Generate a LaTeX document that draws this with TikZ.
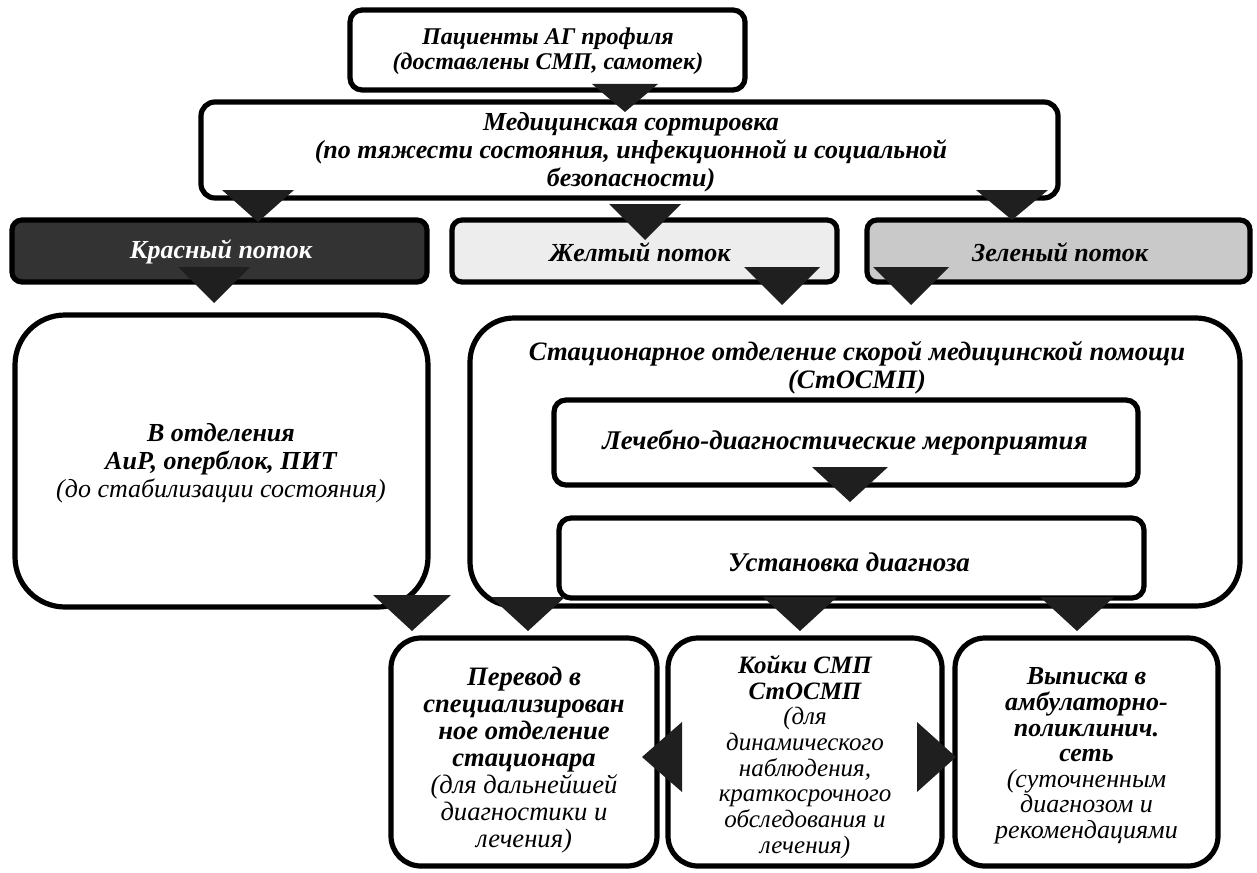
\documentclass[tikz,border=0pt]{standalone}
\usepackage{fontspec}
\setmainfont{Liberation Serif}
\begin{document}
\begin{tikzpicture}[x=0.5pt,y=-0.5pt,
  box/.style={draw=black,line width=2.6pt,fill=white,inner sep=0pt},
  txt/.style={align=center,font=\fontsize{13pt}{14pt}\selectfont\itshape\bfseries,inner sep=0pt},
  subtxt/.style={align=center,font=\fontsize{13pt}{14pt}\selectfont\itshape,inner sep=0pt},
  tri/.style={fill=black!88}]
\useasboundingbox (0,0) rectangle (1257,872);
\newcommand\dtri[4]{\fill[tri] (#1-#3,#2) -- (#1+#3,#2) -- (#1,#2+#4) -- cycle;}
% boxes
\node[box,rounded corners=6pt,minimum width=197.5pt,minimum height=40pt] (top) at (547.5,50) {};
\node[box,rounded corners=7pt,minimum width=428.5pt,minimum height=48pt] (sort) at (629.5,150) {};
\node[box,rounded corners=5pt,fill=black!80,minimum width=207.5pt,minimum height=31pt] (red) at (219.5,251) {};
\node[box,rounded corners=5pt,fill=black!7,minimum width=192.5pt,minimum height=31pt] (yellow) at (644.5,251) {};
\node[box,rounded corners=5pt,fill=black!21,minimum width=191.5pt,minimum height=31pt] (green) at (1058.5,251) {};
\node[box,rounded corners=25pt,minimum width=206.5pt,minimum height=146pt] (left) at (221.5,461) {};
\node[box,rounded corners=22pt,minimum width=385pt,minimum height=144pt] (big) at (855,462) {};
\node[box,rounded corners=6pt,minimum width=292pt,minimum height=42.5pt] (in1) at (846,442.5) {};
\node[box,rounded corners=6pt,minimum width=292.5pt,minimum height=40pt] (in2) at (851.5,558) {};
\node[box,rounded corners=15pt,minimum width=133pt,minimum height=114pt] (boxA) at (524,752) {};
\node[box,rounded corners=15pt,minimum width=137pt,minimum height=114pt] (boxB) at (805,752) {};
\node[box,rounded corners=15pt,minimum width=131.5pt,minimum height=114pt] (boxC) at (1086.5,752) {};
% texts
\node[txt,font=\fontsize{12pt}{12.5pt}\selectfont\itshape\bfseries] (ttop) at (548,51) {Пациенты АГ профиля\\(доставлены СМП, самотек)};
\node[txt] (tsort) at (631,152) {Медицинская сортировка\\(по тяжести состояния, инфекционной и социальной\\безопасности)};
\node[txt,text=white] (tred) at (221,252) {Красный поток};
\node[txt] (tyellow) at (640,252) {Желтый поток};
\node[txt] (tgreen) at (1060,252) {Зеленый поток};
\node[txt] (tleft) at (221,463) {В отделения\\АиР, оперблок, ПИТ\\{\normalfont\itshape (до стабилизации состояния)}};
\node[txt,font=\fontsize{13.3pt}{14pt}\selectfont\itshape\bfseries] (tbig) at (857,368) {Стационарное отделение скорой медицинской помощи\\(СтОСМП)};
\node[txt,font=\fontsize{13.5pt}{14pt}\selectfont\itshape\bfseries] (tin1) at (845,443) {Лечебно-диагностические мероприятия};
\node[txt,font=\fontsize{13.5pt}{14pt}\selectfont\itshape\bfseries] (tin2) at (849,562) {Установка диагноза};
\node[txt,font=\fontsize{13.3pt}{13.5pt}\selectfont\itshape\bfseries] (tA) at (524,760) {Перевод в\\специализирован\\ное отделение\\стационара\\{\normalfont\itshape (для дальнейшей}\\{\normalfont\itshape диагностики и}\\{\normalfont\itshape лечения)}};
\node[txt,font=\fontsize{12.5pt}{12.85pt}\selectfont\itshape\bfseries] (tB) at (805,757) {Койки СМП\\СтОСМП\\{\normalfont\itshape (для}\\{\normalfont\itshape динамического}\\{\normalfont\itshape наблюдения,}\\{\normalfont\itshape краткосрочного}\\{\normalfont\itshape обследования и}\\{\normalfont\itshape лечения)}};
\node[txt,font=\fontsize{13pt}{12.8pt}\selectfont\itshape\bfseries] (tC) at (1086.5,756) {Выписка в\\амбулаторно-\\поликлинич.\\сеть\\{\normalfont\itshape (суточненным}\\{\normalfont\itshape диагнозом и}\\{\normalfont\itshape рекомендациями}};
% arrowheads
\dtri{625}{84}{33}{28}
\dtri{258}{190}{36}{32}
\dtri{645}{204}{36}{36}
\dtri{1012}{190}{36}{30}
\dtri{214}{267}{36}{36}
\dtri{782}{267}{38}{38}
\dtri{911}{267}{38}{38}
\dtri{850}{467}{38}{35}
\dtri{412}{595}{39}{36}
\dtri{528}{597}{37}{34}
\dtri{800}{597}{37}{34}
\dtri{1077}{597}{37}{34}
\fill[tri] (682,722) -- (682,792) -- (642,757) -- cycle;
\fill[tri] (917,722) -- (917,792) -- (956,757) -- cycle;
\end{tikzpicture}
\end{document}
